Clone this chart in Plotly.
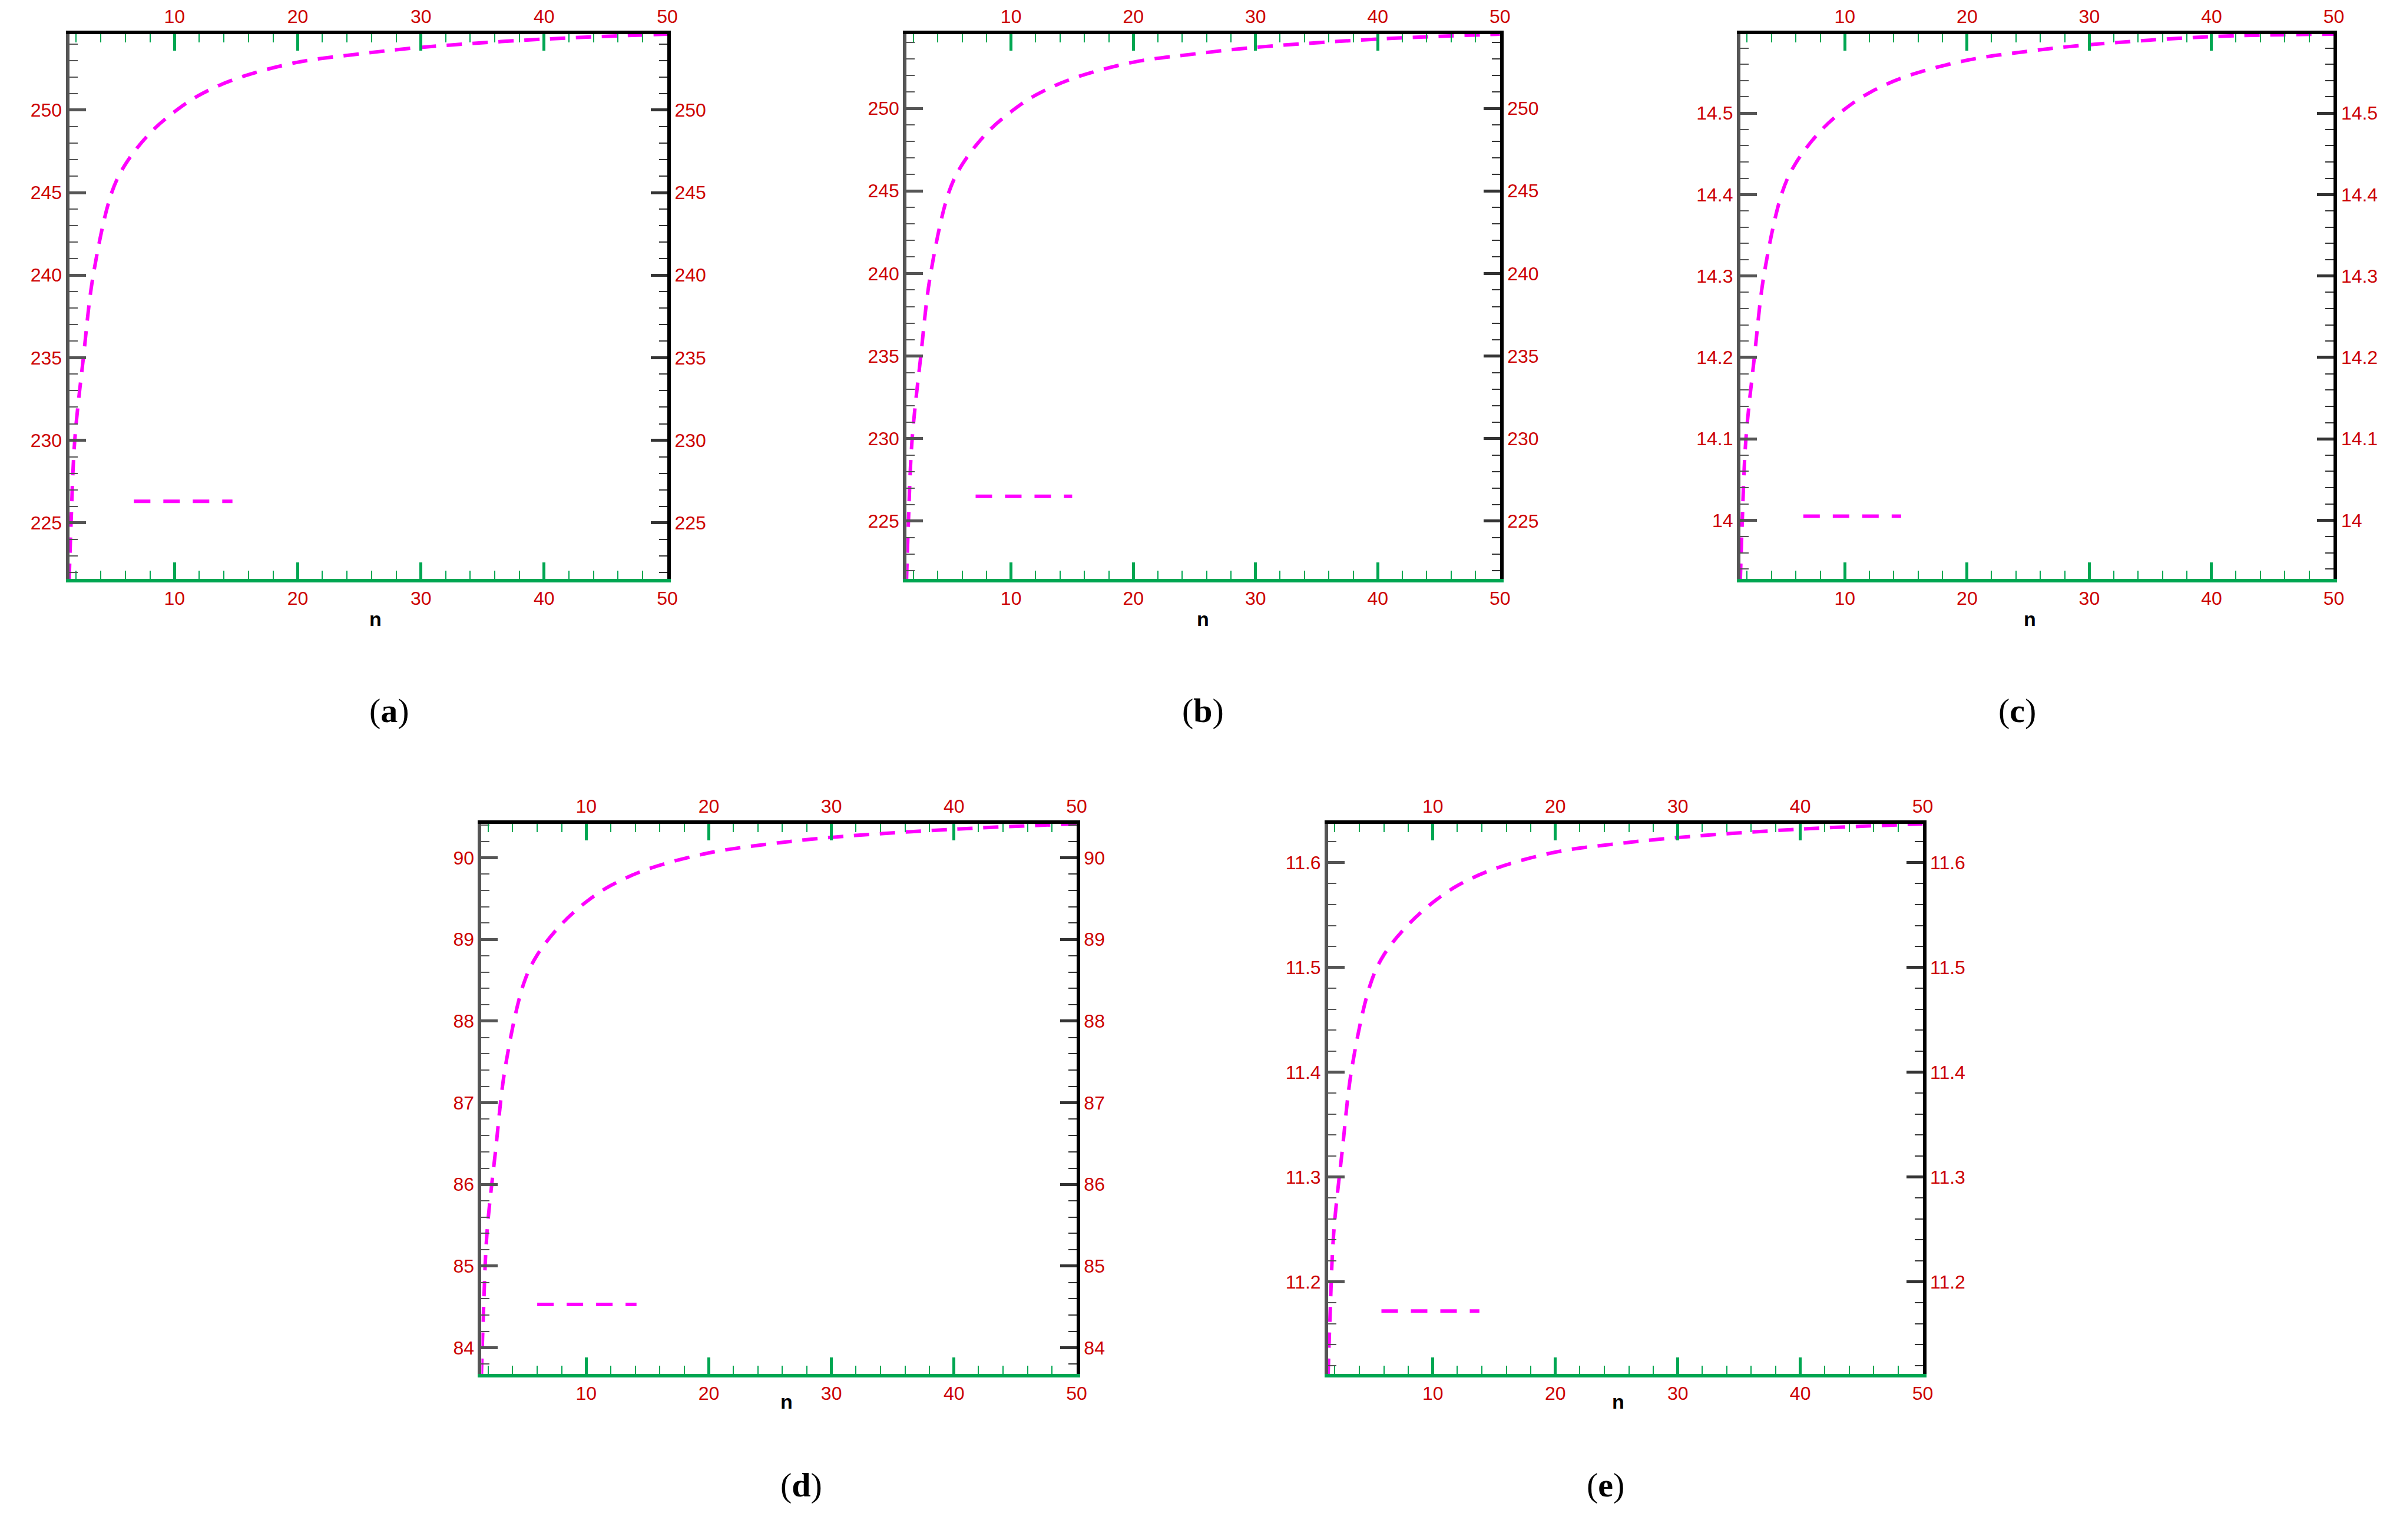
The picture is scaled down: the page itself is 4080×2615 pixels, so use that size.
import plotly.graph_objects as go

W, H = 4080, 2615

n = [1.45, 1.6, 1.9, 2.6, 3.4, 4.9, 6, 8, 10, 12, 15, 20, 25, 30, 40, 50]

y_a = [221.6, 225.0, 230.0, 235.0, 240.0, 245.0, 246.7, 248.6, 249.9, 250.9, 251.9, 252.9, 253.4, 253.8, 254.3, 254.6]
y_b = [221.5, 224.9, 229.9, 234.9, 239.9, 244.9, 246.6, 248.5, 249.8, 250.8, 251.8, 252.8, 253.3, 253.7, 254.2, 254.5]
y_c = [13.928, 13.997, 14.099, 14.201, 14.303, 14.404, 14.439, 14.478, 14.505, 14.525, 14.545, 14.565, 14.576, 14.584, 14.594, 14.597]
y_d = [83.68, 84.37, 85.40, 86.41, 87.44, 88.46, 88.81, 89.19, 89.46, 89.66, 89.86, 90.06, 90.17, 90.25, 90.35, 90.415]
y_e = [11.112, 11.166, 11.246, 11.325, 11.405, 11.484, 11.512, 11.541, 11.562, 11.578, 11.594, 11.610, 11.618, 11.624, 11.632, 11.637]

legend_x = {'a': [6.7, 14.7], 'b': [7.1, 15.0], 'c': [6.6, 14.6], 'd': [6.0, 14.1], 'e': [5.8, 13.8]}
legend_y = {'a': 226.3, 'b': 226.5, 'c': 14.005, 'd': 84.53, 'e': 11.172}

y_ranges = {'a': [221.6, 254.6], 'b': [221.5, 254.5], 'c': [13.928, 14.597],
            'd': [83.68, 90.415], 'e': [11.112, 11.637]}
y_dtick = {'a': 5, 'b': 5, 'c': 0.1, 'd': 1, 'e': 0.1}
y_minor = {'a': 1, 'b': 1, 'c': 0.02, 'd': 0.2, 'e': 0.02}
series = {'a': y_a, 'b': y_b, 'c': y_c, 'd': y_d, 'e': y_e}

# panel boxes in pixels: left, right, top, bottom
boxes = {'a': (110, 1130, 50, 975), 'b': (1538, 2550, 50, 975), 'c': (2960, 3972, 50, 975),
         'd': (813, 1828, 1391, 2325), 'e': (2257, 3271, 1391, 2325)}

RED = '#cc0000'
GREEN = '#00a651'
MAGENTA = '#ff00ff'
tickfont = dict(family='Liberation Sans', size=32, color=RED)

fig = go.Figure()
layout = {}
annotations = []

for i, key in enumerate(['a', 'b', 'c', 'd', 'e']):
    l, r, t, b = boxes[key]
    xd = [l / W, r / W]
    yd = [1 - b / H, 1 - t / H]
    k = 4 * i
    xb, xt, yl, yr = k + 1, k + 2, k + 3, k + 4
    common_x = dict(domain=xd, range=[1.45, 50], dtick=10, tick0=0, ticks='inside', ticklen=28,
                    tickwidth=5, tickcolor=GREEN, tickfont=tickfont, showgrid=False, zeroline=False,
                    showline=True, linewidth=6, mirror=False,
                    minor=dict(dtick=2, tick0=0, ticks='inside', ticklen=14, tickwidth=2, tickcolor=GREEN))
    common_y = dict(domain=yd, range=y_ranges[key], dtick=y_dtick[key], ticks='inside', ticklen=28,
                    tickwidth=5, tickfont=tickfont, showgrid=False, zeroline=False, showline=True,
                    linewidth=6, minor=dict(dtick=y_minor[key], ticks='inside', ticklen=14, tickwidth=2))
    layout[f'xaxis{xb}'] = dict(common_x, anchor=f'y{yl}', side='bottom', linecolor=GREEN)
    layout[f'xaxis{xt}'] = dict(common_x, anchor=f'y{yl}', side='top', overlaying=f'x{xb}', linecolor='black')
    layout[f'yaxis{yl}'] = dict(common_y, anchor=f'x{xb}', side='left', linecolor='#555555', tickcolor='#555555',
                                minor=dict(common_y['minor'], tickcolor='#555555'))
    layout[f'yaxis{yr}'] = dict(common_y, anchor=f'x{xb}', side='right', overlaying=f'y{yl}', linecolor='black',
                                tickcolor='#333333', minor=dict(common_y['minor'], tickcolor='#333333'))

    fig.add_trace(go.Scatter(x=n, y=series[key], mode='lines', line=dict(color=MAGENTA, width=6, dash='26px,18px'),
                             line_shape='spline', xaxis=f'x{xb}', yaxis=f'y{yl}', showlegend=False))
    fig.add_trace(go.Scatter(x=legend_x[key], y=[legend_y[key]] * 2, mode='lines',
                             line=dict(color=MAGENTA, width=6, dash='28px,22px'),
                             xaxis=f'x{xb}', yaxis=f'y{yl}', showlegend=False))
    # invisible traces so the top/right axes render
    fig.add_trace(go.Scatter(x=[10], y=[y_ranges[key][0]], mode='markers', marker=dict(opacity=0),
                             xaxis=f'x{xt}', yaxis=f'y{yr}', showlegend=False, hoverinfo='skip'))

    cx = (l + r) / 2 / W
    annotations.append(dict(text='<b>n</b>', x=cx, y=1 - (b + 68) / H, xref='paper', yref='paper',
                            showarrow=False, font=dict(family='Liberation Sans', size=34, color='black')))
    annotations.append(dict(text=f'(<b>{key}</b>)', x=cx, y=1 - (b + 223) / H, xref='paper', yref='paper',
                            showarrow=False, font=dict(family='Liberation Serif', size=58, color='black')))

fig.update_layout(**layout)
fig.update_layout(width=W, height=H, margin=dict(l=0, r=0, t=0, b=0), plot_bgcolor='white',
                  paper_bgcolor='white', annotations=annotations, showlegend=False)

fig.write_html("out.html")
